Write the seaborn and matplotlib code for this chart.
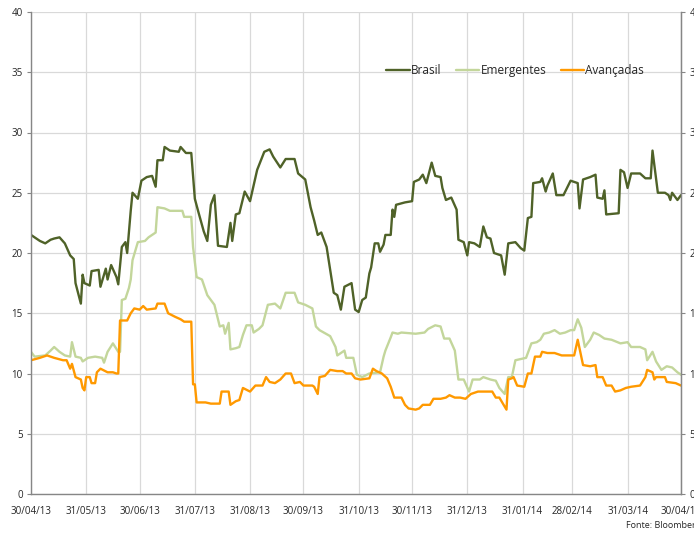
import numpy as np
import pandas as pd
import matplotlib
matplotlib.use("Agg")
import matplotlib.pyplot as plt
import matplotlib.dates as mdates
import seaborn as sns

inicio = "2013-04-30"

brasil_dias = [0, 3, 5, 8, 11, 13, 16, 19, 22, 24, 25, 28, 29, 30, 33, 34, 38, 39, 42, 43, 45, 48, 49,
               51, 53, 54, 56, 57, 60, 62, 65, 68, 70, 71, 74, 75, 78, 83, 84, 87, 90, 92, 94,
               97, 99, 101, 103, 105, 110, 112, 113, 115, 117, 120, 123, 127, 131, 134, 136,
               140, 143, 148, 150, 154, 157, 159, 161, 163, 166, 170, 172, 174, 176, 180, 182,
               184, 186, 188, 190, 191, 193, 195, 196, 198, 199, 202, 203, 204, 205, 210, 214,
               215, 218, 220, 222, 225, 227, 230, 231, 233, 236, 239, 240, 243, 245, 246, 249,
               252, 254, 256, 258, 260, 264, 266, 268, 272, 275, 277, 279, 281, 282, 286, 287,
               289, 290, 293, 295, 299, 301, 303, 307, 308, 310, 314, 317, 318, 321, 322, 323,
               330, 331, 333, 335, 337, 342, 345, 348, 349, 352, 356, 358, 359, 360, 363, 365]
brasil = [21.5, 21.2, 21.0, 20.8, 21.1, 21.2, 21.3, 20.8, 19.8, 19.5, 17.5, 15.8, 18.2, 17.5, 17.3, 18.5, 18.6, 17.2, 18.7, 17.8, 19.0, 18.0, 17.4,
          20.5, 20.9, 20.0, 23.5, 25.0, 24.5, 26.0, 26.3, 26.4, 25.5, 27.7, 27.7, 28.8, 28.5, 28.4, 28.8, 28.3, 28.3, 24.5, 23.4,
          21.8, 21.0, 24.0, 24.8, 20.6, 20.5, 22.5, 21.0, 23.2, 23.3, 25.1, 24.3, 26.9, 28.4, 28.6, 28.0,
          27.1, 27.8, 27.8, 26.6, 26.1, 23.8, 22.7, 21.5, 21.7, 20.5, 16.7, 16.5, 15.3, 17.2, 17.5, 15.3,
          15.1, 16.1, 16.3, 18.3, 18.8, 20.8, 20.8, 20.1, 20.7, 21.5, 21.5, 23.6, 23.0, 24.0, 24.2, 24.3,
          25.9, 26.1, 26.5, 25.8, 27.5, 26.4, 26.3, 25.4, 24.4, 24.6, 23.6, 21.1, 20.9, 19.8, 20.9, 20.8,
          20.5, 22.2, 21.3, 21.2, 20.0, 19.8, 18.2, 20.8, 20.9, 20.4, 20.2, 22.9, 23.0, 25.8, 25.9, 26.2,
          25.1, 25.6, 26.6, 24.8, 24.8, 25.4, 26.0, 25.8, 23.7, 26.1, 26.3, 26.5, 24.6, 24.5, 25.2, 23.2,
          23.3, 26.9, 26.7, 25.4, 26.6, 26.6, 26.2, 26.2, 28.5, 25.0, 25.0, 24.8, 24.4, 25.0, 24.4, 24.8]

emerg_dias = [0, 2, 8, 11, 13, 16, 19, 22, 23, 25, 28, 29, 32, 36, 40, 41, 43, 46, 49, 50,
              51, 53, 55, 56, 57, 60, 64, 66, 70, 71, 75, 78, 85, 86, 90, 91, 93, 96, 99, 102,
              103, 106, 108, 109, 111, 112, 115, 117, 119, 121, 124, 125, 128, 130, 133, 137,
              140, 143, 148, 150, 154, 158, 160, 162, 168, 171, 172, 176, 177, 181, 183, 186,
              190, 196, 198, 199, 202, 203, 206, 208, 216, 221, 223, 227, 230, 232, 235, 238,
              240, 243, 246, 248, 252, 254, 258, 261, 263, 266, 268, 270, 272, 275, 278, 281,
              284, 286, 288, 291, 294, 297, 300, 303, 305, 307, 309, 311, 314, 316, 319, 322,
              326, 331, 335, 337, 342, 345, 346, 349, 351, 354, 357, 360, 363, 365]
emergentes = [11.8, 11.4, 11.5, 11.9, 12.2, 11.8, 11.5, 11.4, 12.6, 11.4, 11.3, 11.0, 11.3, 11.4, 11.3, 10.9, 11.8, 12.5, 11.8, 11.8,
              16.1, 16.2, 17.1, 17.8, 19.4, 20.9, 21.0, 21.3, 21.7, 23.8, 23.7, 23.5, 23.5, 23.0, 23.0, 20.5, 18.0, 17.8, 16.5, 15.9,
              15.7, 13.9, 14.0, 13.3, 14.2, 12.0, 12.1, 12.2, 13.2, 14.0, 14.0, 13.4, 13.7, 14.0, 15.7, 15.8,
              15.4, 16.7, 16.7, 15.9, 15.7, 15.4, 13.9, 13.6, 13.1, 12.2, 11.5, 11.9, 11.3, 11.3, 9.9, 9.7,
              10.0, 10.1, 11.4, 11.9, 13.0, 13.4, 13.3, 13.4, 13.3, 13.4, 13.7, 14.0, 13.9, 12.9, 12.9, 11.9,
              9.5, 9.5, 8.5, 9.5, 9.5, 9.7, 9.5, 9.4, 8.8, 8.3, 9.7, 9.7, 11.1, 11.2, 11.3, 12.5,
              12.6, 12.8, 13.3, 13.4, 13.6, 13.3, 13.4, 13.6, 13.6, 14.5, 13.8, 12.2, 12.8, 13.4, 13.2, 12.9,
              12.8, 12.5, 12.6, 12.2, 12.2, 12.0, 11.1, 11.8, 11.0, 10.3, 10.6, 10.5, 10.1, 9.9]

avanc_dias = [0, 5, 9, 13, 18, 20, 22, 23, 25, 28, 29, 30, 31, 33, 34, 36, 37, 39, 43, 46,
              48, 49, 50, 54, 56, 58, 61, 63, 65, 70, 71, 75, 77, 81, 84, 86, 90, 91, 92, 93,
              98, 101, 106, 107, 111, 112, 115, 117, 119, 123, 126, 130, 132, 134, 137, 140,
              143, 146, 148, 151, 153, 158, 159, 161, 162, 165, 168, 172, 175, 177, 180, 182,
              185, 190, 192, 194, 197, 200, 202, 204, 208, 210, 212, 216, 218, 220, 224, 226,
              230, 233, 235, 238, 241, 244, 247, 251, 256, 259, 261, 263, 265, 267, 268, 270,
              271, 273, 277, 279, 281, 283, 286, 287, 290, 294, 298, 303, 305, 307, 310, 314,
              317, 318, 321, 323, 326, 328, 331, 334, 337, 342, 345, 346, 349, 350, 351, 356,
              357, 362, 365]
avancadas = [11.1, 11.3, 11.5, 11.3, 11.1, 11.1, 10.4, 10.8, 9.7, 9.5, 8.8, 8.6, 9.7, 9.7, 9.2, 9.2, 10.1, 10.4, 10.1, 10.1,
             10.0, 10.0, 14.4, 14.4, 15.0, 15.4, 15.3, 15.6, 15.3, 15.4, 15.8, 15.8, 15.0, 14.7, 14.5, 14.3, 14.3, 9.1, 9.1, 7.6,
             7.6, 7.5, 7.5, 8.5, 8.5, 7.4, 7.7, 7.8, 8.8, 8.5, 9.0, 9.0, 9.7, 9.3, 9.2, 9.5,
             10.0, 10.0, 9.2, 9.3, 9.0, 9.0, 8.9, 8.3, 9.7, 9.8, 10.3, 10.2, 10.2, 10.0, 10.0, 9.6,
             9.5, 9.6, 10.4, 10.2, 10.0, 9.6, 8.9, 8.0, 8.0, 7.4, 7.1, 7.0, 7.1, 7.4, 7.4, 7.9,
             7.9, 8.0, 8.2, 8.0, 8.0, 7.9, 8.3, 8.5, 8.5, 8.5, 8.0, 8.0, 7.5, 7.0, 9.5, 9.6,
             9.7, 9.0, 8.9, 10.0, 10.0, 11.4, 11.4, 11.8, 11.7, 11.7, 11.5, 11.5, 11.5, 12.8, 10.7, 10.6,
             10.7, 9.7, 9.7, 9.0, 9.0, 8.5, 8.6, 8.8, 8.9, 9.0, 9.7, 10.3, 10.1, 9.5, 9.7, 9.7,
             9.3, 9.2, 9.0]

series = ["Brasil", "Emergentes", "Avançadas"]
cores = ["#4f6228", "#c3d69b", "#ff9900"]
tick_datas = ["2013-04-30", "2013-05-31", "2013-06-30", "2013-07-31", "2013-08-31", "2013-09-30",
              "2013-10-31", "2013-11-30", "2013-12-31", "2014-01-31", "2014-02-28", "2014-03-31",
              "2014-04-30"]
y_ticks = [0, 5, 10, 15, 20, 25, 30, 35, 40]

t0 = pd.Timestamp(inicio)
frames = []
for nome, dias, vals in [("Brasil", brasil_dias, brasil),
                         ("Emergentes", emerg_dias, emergentes),
                         ("Avançadas", avanc_dias, avancadas)]:
    frames.append(pd.DataFrame({
        "data": t0 + pd.to_timedelta(dias, unit="D"),
        "valor": vals,
        "serie": nome,
    }))
df = pd.concat(frames, ignore_index=True)

sns.set_style("white")
plt.rcParams["font.family"] = ["Open Sans", "DejaVu Sans"]

fig = plt.figure(figsize=(6.94, 5.33), dpi=100)
ax = fig.add_axes([31 / 694, 1 - 494 / 533, 650 / 694, 482 / 533])

sns.lineplot(data=df, x="data", y="valor", hue="serie", hue_order=series,
             palette=cores, estimator=None, sort=False, linewidth=1.7, ax=ax)

ticks = pd.to_datetime(tick_datas)
ax.set_xlim(ticks[0], ticks[-1])
ax.set_ylim(0, 40)
ax.set_xticks(ticks)
ax.xaxis.set_major_formatter(mdates.DateFormatter("%d/%m/%y"))
ax.set_yticks(y_ticks)
ax.grid(True, color="#d9d9d9", linewidth=0.9)
ax.set_axisbelow(True)
ax.set_xlabel("")
ax.set_ylabel("")
ax.spines["top"].set_visible(False)
for s in ["left", "bottom", "right"]:
    ax.spines[s].set_color("#868686")
    ax.spines[s].set_linewidth(1.0)
ax.tick_params(axis="both", which="major", length=3, color="#868686", labelsize=7,
               labelcolor="#262626", direction="out", pad=3)
ax.tick_params(axis="x", pad=6)

ax2 = ax.twinx()
ax2.set_ylim(0, 40)
ax2.set_yticks(y_ticks)
for s in ["top", "left", "bottom"]:
    ax2.spines[s].set_visible(False)
ax2.spines["right"].set_color("#868686")
ax2.tick_params(axis="y", length=3, color="#868686", labelsize=7, labelcolor="#262626", pad=3)

leg = ax.legend(loc="center", bbox_to_anchor=(0.745, 0.878), ncol=3, frameon=False,
                fontsize=8.5, handlelength=2.0, handletextpad=0.1, columnspacing=1.2)

fig.text(626 / 694, 1 - 526 / 533, "Fonte: Bloomberg", fontsize=6.5, color="#262626",
         ha="left", va="center")

fig.savefig("out.png", dpi=100)
